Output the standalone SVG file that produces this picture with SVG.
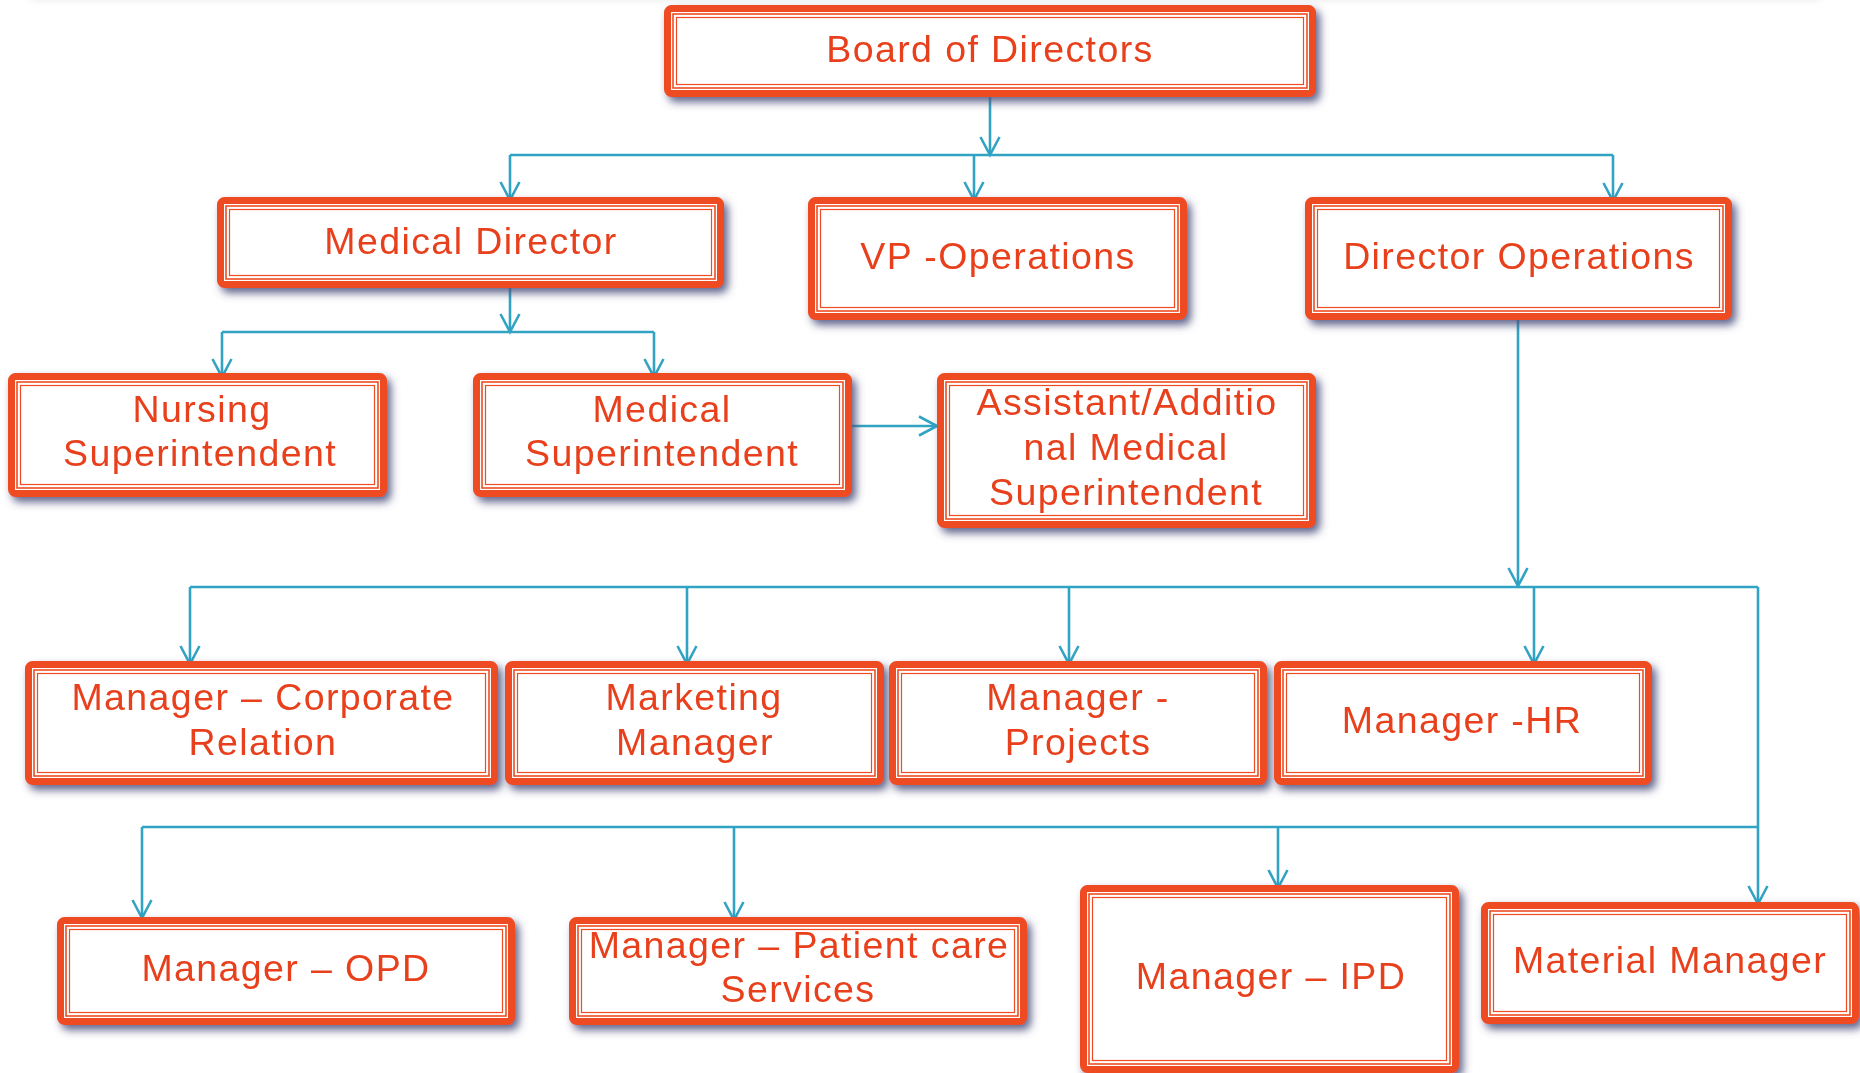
<svg xmlns="http://www.w3.org/2000/svg" width="1860" height="1073" viewBox="0 0 1860 1073">
<defs>
  <filter id="shadow" x="-10%" y="-20%" width="125%" height="150%">
    <feGaussianBlur in="SourceAlpha" stdDeviation="4.5" result="b"/>
    <feOffset in="b" dx="4" dy="5" result="o"/>
    <feFlood flood-color="#4e527f" flood-opacity="0.9"/>
    <feComposite in2="o" operator="in" result="s"/>
    <feMerge><feMergeNode in="s"/><feMergeNode in="SourceGraphic"/></feMerge>
  </filter>
  <filter id="topblur" x="-5%" y="-200%" width="110%" height="500%">
    <feGaussianBlur stdDeviation="4"/>
  </filter>
  <marker id="arr" markerUnits="userSpaceOnUse" markerWidth="24" markerHeight="24" viewBox="-20 -12 22 24" refX="0" refY="0" orient="auto">
    <path d="M-18,-9.5 L0,0 L-18,9.5" fill="none" stroke="#31a3c3" stroke-width="2.6"/>
  </marker>
</defs>
<style>
  .outer { fill:#ffffff; stroke:#ef4c22; stroke-width:7; }
  .in1 { fill:none; stroke:#ef4c22; stroke-width:1.6; }
  .in2 { fill:none; stroke:#ef4c22; stroke-width:1.2; }
  .lbl { font-family:"Liberation Sans",Arial,sans-serif; font-size:37.5px; letter-spacing:1.4px; fill:#e8401c; text-anchor:middle; }
  .c { fill:none; stroke:#31a3c3; stroke-width:2.6; }
  .ca { fill:none; stroke:#31a3c3; stroke-width:2.6; marker-end:url(#arr); }
</style>
<rect width="1860" height="1073" fill="#ffffff"/>
<rect x="30" y="-14" width="1790" height="12" fill="#9a9a9a" opacity="0.35" filter="url(#topblur)"/>

<g id="connectors">
  <path class="ca" d="M990,97 V155"/>
  <path class="c" d="M510,155 H1613"/>
  <path class="ca" d="M510,155 V200"/>
  <path class="ca" d="M974,155 V200"/>
  <path class="ca" d="M1613,155 V201"/>
  <path class="ca" d="M510,288 V332"/>
  <path class="c" d="M222,332 H654"/>
  <path class="ca" d="M222,332 V377"/>
  <path class="ca" d="M654,332 V377"/>
  <path class="ca" d="M852,426 H937"/>
  <path class="ca" d="M1518,320 V586"/>
  <path class="c" d="M190,587 H1758"/>
  <path class="ca" d="M1758,587 V904"/>
  <path class="ca" d="M190,587 V664"/>
  <path class="ca" d="M687,587 V664"/>
  <path class="ca" d="M1069,587 V664"/>
  <path class="ca" d="M1534,587 V664"/>
  <path class="c" d="M142,827 H1758"/>
  <path class="ca" d="M142,827 V918"/>
  <path class="ca" d="M734,827 V920"/>
  <path class="ca" d="M1278,827 V888"/>
</g>

<g id="node-board" filter="url(#shadow)">
  <rect class="outer" x="667.5" y="8.5" width="645" height="85" rx="4"/>
  <rect class="in1" x="673" y="14" width="634" height="74"/>
  <rect class="in2" x="676.5" y="17.5" width="627" height="67"/>
  <text class="lbl" x="990" y="62">Board of Directors</text>
</g>
<g id="node-medical-director" filter="url(#shadow)">
  <rect class="outer" x="220.5" y="200.5" width="500" height="84" rx="4"/>
  <rect class="in1" x="226" y="206" width="489" height="73"/>
  <rect class="in2" x="229.5" y="209.5" width="482" height="66"/>
  <text class="lbl" x="471" y="254">Medical Director</text>
</g>
<g id="node-vp-operations" filter="url(#shadow)">
  <rect class="outer" x="811.5" y="200.5" width="372" height="116" rx="4"/>
  <rect class="in1" x="817" y="206" width="361" height="105"/>
  <rect class="in2" x="820.5" y="209.5" width="354" height="98"/>
  <text class="lbl" x="998" y="269">VP -Operations</text>
</g>
<g id="node-director-operations" filter="url(#shadow)">
  <rect class="outer" x="1308.5" y="200.5" width="420" height="116" rx="4"/>
  <rect class="in1" x="1314" y="206" width="409" height="105"/>
  <rect class="in2" x="1317.5" y="209.5" width="402" height="98"/>
  <text class="lbl" x="1519" y="269">Director Operations</text>
</g>
<g id="node-nursing-superintendent" filter="url(#shadow)">
  <rect class="outer" x="11.5" y="376.5" width="372" height="117" rx="4"/>
  <rect class="in1" x="17" y="382" width="361" height="106"/>
  <rect class="in2" x="20.5" y="385.5" width="354" height="99"/>
  <text class="lbl"><tspan x="202" y="422">Nursing</tspan><tspan x="200" y="466">Superintendent</tspan></text>
</g>
<g id="node-medical-superintendent" filter="url(#shadow)">
  <rect class="outer" x="476.5" y="376.5" width="372" height="117" rx="4"/>
  <rect class="in1" x="482" y="382" width="361" height="106"/>
  <rect class="in2" x="485.5" y="385.5" width="354" height="99"/>
  <text class="lbl"><tspan x="662" y="422">Medical</tspan><tspan x="662" y="466">Superintendent</tspan></text>
</g>
<g id="node-assistant-medical-superintendent" filter="url(#shadow)">
  <rect class="outer" x="940.5" y="376.5" width="372" height="148" rx="4"/>
  <rect class="in1" x="946" y="382" width="361" height="137"/>
  <rect class="in2" x="949.5" y="385.5" width="354" height="130"/>
  <text class="lbl"><tspan x="1127" y="415">Assistant/Additio</tspan><tspan x="1126" y="460">nal Medical</tspan><tspan x="1126" y="505">Superintendent</tspan></text>
</g>
<g id="node-manager-corporate-relation" filter="url(#shadow)">
  <rect class="outer" x="28.5" y="664.5" width="466" height="117" rx="4"/>
  <rect class="in1" x="34" y="670" width="455" height="106"/>
  <rect class="in2" x="37.5" y="673.5" width="448" height="99"/>
  <text class="lbl"><tspan x="263" y="710">Manager – Corporate</tspan><tspan x="263" y="755">Relation</tspan></text>
</g>
<g id="node-marketing-manager" filter="url(#shadow)">
  <rect class="outer" x="508.5" y="664.5" width="372" height="117" rx="4"/>
  <rect class="in1" x="514" y="670" width="361" height="106"/>
  <rect class="in2" x="517.5" y="673.5" width="354" height="99"/>
  <text class="lbl"><tspan x="694" y="710">Marketing</tspan><tspan x="695" y="755">Manager</tspan></text>
</g>
<g id="node-manager-projects" filter="url(#shadow)">
  <rect class="outer" x="892.5" y="664.5" width="371" height="117" rx="4"/>
  <rect class="in1" x="898" y="670" width="360" height="106"/>
  <rect class="in2" x="901.5" y="673.5" width="353" height="99"/>
  <text class="lbl"><tspan x="1078" y="710">Manager -</tspan><tspan x="1078" y="755">Projects</tspan></text>
</g>
<g id="node-manager-hr" filter="url(#shadow)">
  <rect class="outer" x="1277.5" y="664.5" width="371" height="117" rx="4"/>
  <rect class="in1" x="1283" y="670" width="360" height="106"/>
  <rect class="in2" x="1286.5" y="673.5" width="353" height="99"/>
  <text class="lbl" x="1462" y="733">Manager -HR</text>
</g>
<g id="node-manager-opd" filter="url(#shadow)">
  <rect class="outer" x="60.5" y="920.5" width="451" height="101" rx="4"/>
  <rect class="in1" x="66" y="926" width="440" height="90"/>
  <rect class="in2" x="69.5" y="929.5" width="433" height="83"/>
  <text class="lbl" x="286" y="981">Manager – OPD</text>
</g>
<g id="node-manager-patient-care" filter="url(#shadow)">
  <rect class="outer" x="572.5" y="920.5" width="451" height="101" rx="4"/>
  <rect class="in1" x="578" y="926" width="440" height="90"/>
  <rect class="in2" x="581.5" y="929.5" width="433" height="83"/>
  <text class="lbl"><tspan x="799" y="958">Manager – Patient care</tspan><tspan x="798" y="1002">Services</tspan></text>
</g>
<g id="node-manager-ipd" filter="url(#shadow)">
  <rect class="outer" x="1083.5" y="888.5" width="372" height="181" rx="4"/>
  <rect class="in1" x="1089" y="894" width="361" height="170"/>
  <rect class="in2" x="1092.5" y="897.5" width="354" height="163"/>
  <text class="lbl" x="1271" y="989">Manager – IPD</text>
</g>
<g id="node-material-manager" filter="url(#shadow)">
  <rect class="outer" x="1484.5" y="905.5" width="371" height="115" rx="4"/>
  <rect class="in1" x="1490" y="911" width="360" height="104"/>
  <rect class="in2" x="1493.5" y="914.5" width="353" height="97"/>
  <text class="lbl" x="1670" y="973">Material Manager</text>
</g>
</svg>
